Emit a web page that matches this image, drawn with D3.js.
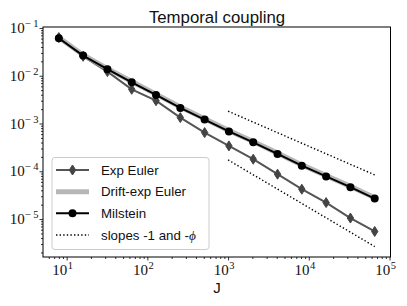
<!DOCTYPE html>
<html>
<head>
<meta charset="utf-8">
<script src="https://cdn.jsdelivr.net/npm/d3@7"></script>
<style>
  body { margin: 0; background: #fff; }
  svg { display: block; }
</style>
</head>
<body>
<svg id="chart" width="407" height="306"></svg>
<script>
// data
const J = [8, 16, 32, 64, 128, 256, 512, 1024, 2048, 4096, 8192, 16384, 32768, 65536];
const expEuler = [0.063, 0.0255, 0.0122, 0.0052, 0.0030, 0.00133, 6.45e-4, 3.40e-4, 1.79e-4, 8.69e-5, 4.22e-5, 2.21e-5, 1.05e-5, 5.5e-6];
const driftExp = [0.063, 0.0272, 0.0141, 0.0076, 0.00412, 0.00221, 0.00126, 7.1e-4, 4.2e-4, 2.40e-4, 1.36e-4, 8.1e-5, 4.83e-5, 2.79e-5];
const milstein = [0.061, 0.0264, 0.0137, 0.0073, 0.00397, 0.00212, 0.00121, 6.84e-4, 4.03e-4, 2.31e-4, 1.31e-4, 7.8e-5, 4.65e-5, 2.69e-5];
const slopeJ = [1000, 65536];
const slopeUpper = [1.81e-3, 8.4e-5];
const slopeLower = [1.73e-4, 2.66e-6];
const xDecades = [1, 2, 3, 4, 5];
const yDecades = [-5, -4, -3, -2, -1];
const legendLabels = ['Exp Euler', 'Drift-exp Euler', 'Milstein', 'slopes -1 and -'];

const svg = d3.select('#chart');
const mLeft = 43, mRight = 390.5, mTop = 27, mBottom = 257;

const x = d3.scaleLog().domain([Math.pow(10, 0.707), Math.pow(10, 5.012)]).range([mLeft, mRight]);
const y = d3.scaleLog().domain([Math.pow(10, -5.794), Math.pow(10, -0.98)]).range([mBottom, mTop]);

// minor ticks
const minor = (lo, hi) => {
  const out = [];
  for (let k = Math.floor(lo); k <= Math.ceil(hi); k++)
    for (let m = 2; m <= 9; m++) {
      const v = m * Math.pow(10, k);
      if (Math.log10(v) >= lo && Math.log10(v) <= hi) out.push(v);
    }
  return out;
};
const xMinor = minor(0.707, 5.012);
const yMinor = minor(-5.794, -0.98);

const axisStyle = g => {
  g.select('.domain').remove();
  g.selectAll('line').attr('stroke', '#000').attr('stroke-width', 0.8);
};

svg.append('g').attr('transform', `translate(0,${mBottom})`)
  .call(d3.axisBottom(x).tickValues(xDecades.map(d => Math.pow(10, d))).tickSize(3.5).tickFormat(''))
  .call(axisStyle);
svg.append('g').attr('transform', `translate(0,${mBottom})`)
  .call(d3.axisBottom(x).tickValues(xMinor).tickSize(2).tickFormat(''))
  .call(axisStyle);
svg.append('g').attr('transform', `translate(${mLeft},0)`)
  .call(d3.axisLeft(y).tickValues(yDecades.map(d => Math.pow(10, d))).tickSize(3.5).tickFormat(''))
  .call(axisStyle);
svg.append('g').attr('transform', `translate(${mLeft},0)`)
  .call(d3.axisLeft(y).tickValues(yMinor).tickSize(2).tickFormat(''))
  .call(axisStyle);

// tick labels 10^k
const serif = '"Liberation Serif", "DejaVu Serif", serif';
xDecades.forEach(k => {
  const t = svg.append('text')
    .attr('x', x(Math.pow(10, k)) - 4).attr('y', 274.5)
    .attr('font-family', serif).attr('font-size', 15).attr('fill', '#111');
  t.append('tspan').attr('text-anchor', 'middle').text('10');
  t.append('tspan').attr('dy', -6).attr('dx', 0.5).attr('font-size', 10.5).text(k);
});
yDecades.forEach(k => {
  const t = svg.append('text')
    .attr('x', 38.5).attr('y', y(Math.pow(10, k)) + 5)
    .attr('text-anchor', 'end')
    .attr('font-family', serif).attr('font-size', 15).attr('fill', '#111');
  t.append('tspan').text('10');
  t.append('tspan').attr('dy', -6).attr('dx', 0.5).attr('font-size', 10.5).text('\u2212\u2009' + Math.abs(k));
});

const sans = '"Liberation Sans", Arial, sans-serif';

// clip plot
svg.append('clipPath').attr('id', 'clip').append('rect')
  .attr('x', mLeft).attr('y', mTop).attr('width', mRight - mLeft).attr('height', mBottom - mTop);
const plot = svg.append('g').attr('clip-path', 'url(#clip)');

const line = d3.line().x(d => x(d[0])).y(d => y(d[1]));

// slope guides
[slopeUpper, slopeLower].forEach(s => {
  plot.append('path').datum(slopeJ.map((j, i) => [j, s[i]]))
    .attr('d', line).attr('fill', 'none').attr('stroke', '#000')
    .attr('stroke-width', 1.4).attr('stroke-dasharray', '1.4,2.2');
});

// Exp Euler
const ee = J.map((j, i) => [j, expEuler[i]]);
plot.append('path').datum(ee).attr('d', line)
  .attr('fill', 'none').attr('stroke', '#555').attr('stroke-width', 2);
const diamond = 'M0,-5L3.2,0L0,5L-3.2,0Z';
plot.selectAll('.dia').data(ee).enter().append('path')
  .attr('transform', d => `translate(${x(d[0])},${y(d[1])})`)
  .attr('d', diamond).attr('fill', '#444').attr('stroke', '#444');

// Drift-exp Euler
const de = J.map((j, i) => [j, driftExp[i]]);
plot.append('path').datum(de).attr('d', line)
  .attr('fill', 'none').attr('stroke', '#aaa').attr('stroke-opacity', 0.85).attr('stroke-width', 5);

// Milstein
const mi = J.map((j, i) => [j, milstein[i]]);
plot.append('path').datum(mi).attr('d', line)
  .attr('fill', 'none').attr('stroke', '#000').attr('stroke-width', 2);
plot.selectAll('.dot').data(mi).enter().append('circle')
  .attr('cx', d => x(d[0])).attr('cy', d => y(d[1])).attr('r', 4).attr('fill', '#000');

// frame
svg.append('rect').attr('x', mLeft).attr('y', mTop)
  .attr('width', mRight - mLeft).attr('height', mBottom - mTop)
  .attr('fill', 'none').attr('stroke', '#000').attr('stroke-width', 1);

// legend
const lg = svg.append('g');
lg.append('rect').attr('x', 52).attr('y', 157.5).attr('width', 157).attr('height', 92)
  .attr('rx', 3).attr('fill', '#fff').attr('fill-opacity', 0.8)
  .attr('stroke', '#ccc').attr('stroke-width', 1);
const rowY = [170, 191.7, 213.3, 235];
const x0 = 56, x1 = 89;
lg.append('line').attr('x1', x0).attr('x2', x1).attr('y1', rowY[0]).attr('y2', rowY[0])
  .attr('stroke', '#555').attr('stroke-width', 2);
lg.append('path').attr('transform', `translate(${(x0 + x1) / 2},${rowY[0]})`)
  .attr('d', diamond).attr('fill', '#444').attr('stroke', '#444');
lg.append('line').attr('x1', x0).attr('x2', x1).attr('y1', rowY[1]).attr('y2', rowY[1])
  .attr('stroke', '#aaa').attr('stroke-opacity', 0.85).attr('stroke-width', 5);
lg.append('line').attr('x1', x0).attr('x2', x1).attr('y1', rowY[2]).attr('y2', rowY[2])
  .attr('stroke', '#000').attr('stroke-width', 2);
lg.append('circle').attr('cx', (x0 + x1) / 2).attr('cy', rowY[2]).attr('r', 4).attr('fill', '#000');
lg.append('line').attr('x1', x0).attr('x2', x1).attr('y1', rowY[3]).attr('y2', rowY[3])
  .attr('stroke', '#000').attr('stroke-width', 1.4).attr('stroke-dasharray', '1.4,2.2');
legendLabels.forEach((t, i) => {
  const txt = lg.append('text').attr('x', 101).attr('y', rowY[i] + 4.5)
    .attr('font-family', sans).attr('font-size', 13.3).attr('fill', '#111').text(t);
  if (i === 3) txt.append('tspan').attr('font-family', serif).attr('font-style', 'italic').text('\u03d5');
});

// title and axis label
svg.append('text').attr('x', 217).attr('y', 22.5).attr('text-anchor', 'middle')
  .attr('font-family', sans).attr('font-size', 16.8).attr('fill', '#111').text('Temporal coupling');
svg.append('text').attr('x', 217).attr('y', 293).attr('text-anchor', 'middle')
  .attr('font-family', sans).attr('font-size', 15).attr('fill', '#111').text('J');
</script>
</body>
</html>
